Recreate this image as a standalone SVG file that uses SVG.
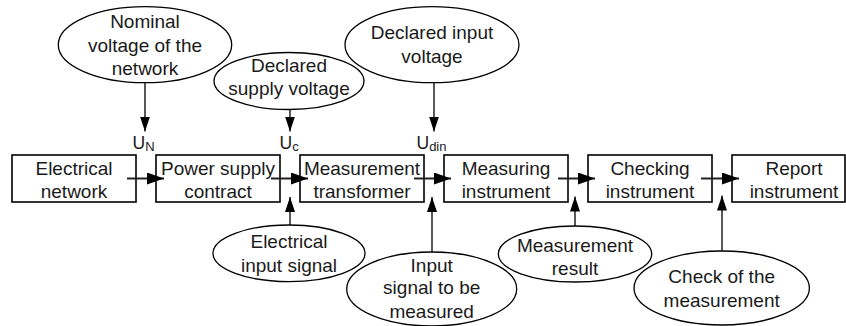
<svg xmlns="http://www.w3.org/2000/svg" width="846" height="326" viewBox="0 0 846 326">
<defs>
<style>
.box{fill:#fff;stroke:#000;stroke-width:1.6}
.ell{fill:#fff;stroke:#000;stroke-width:1.3}
.t{font-family:"Liberation Sans",Arial,sans-serif;font-size:19px;fill:#1a1a1a;text-anchor:middle}
.u{font-family:"Liberation Sans",Arial,sans-serif;font-size:17.5px;fill:#1a1a1a}
.sub{font-size:13px}
.flow{fill:none;stroke:#222;stroke-width:2.2}
.ln{fill:none;stroke:#222;stroke-width:1.5}
</style>
<marker id="ah" markerUnits="userSpaceOnUse" markerWidth="15" markerHeight="10" refX="15" refY="5" orient="auto">
<path d="M0,0 L15,5 L0,10 z" fill="#000"/>
</marker>
<marker id="ahL" markerUnits="userSpaceOnUse" markerWidth="17" markerHeight="12" refX="17" refY="6" orient="auto">
<path d="M0,0 L17,6 L0,12 z" fill="#000"/>
</marker>
</defs>
<rect width="846" height="326" fill="#fff"/>

<g id="n-electrical-network">
<rect class="box" x="12" y="155" width="124" height="47"/>
<text class="t" x="74" y="175">Electrical</text>
<text class="t" x="74" y="197.5">network</text>
</g>
<g id="n-power-supply">
<rect class="box" x="156" y="155" width="124" height="47"/>
<text class="t" x="218" y="175">Power supply</text>
<text class="t" x="218" y="197.5">contract</text>
</g>
<g id="n-transformer">
<rect class="box" x="300" y="155" width="124" height="47"/>
<text class="t" x="362" y="175">Measurement</text>
<text class="t" x="362" y="197.5">transformer</text>
</g>
<g id="n-measuring">
<rect class="box" x="444" y="155" width="124" height="47"/>
<text class="t" x="506" y="175">Measuring</text>
<text class="t" x="506" y="197.5">instrument</text>
</g>
<g id="n-checking">
<rect class="box" x="588" y="155" width="124" height="47"/>
<text class="t" x="650" y="175">Checking</text>
<text class="t" x="650" y="197.5">instrument</text>
</g>
<g id="n-report">
<rect class="box" x="732" y="155" width="113" height="47"/>
<text class="t" x="794" y="175">Report</text>
<text class="t" x="794" y="197.5">instrument</text>
</g>

<g id="connectors">
<line class="flow" x1="127" y1="178.5" x2="164" y2="178.5" marker-end="url(#ahL)"/>
<line class="flow" x1="271" y1="178.5" x2="308" y2="178.5" marker-end="url(#ahL)"/>
<line class="flow" x1="414" y1="178.5" x2="451" y2="178.5" marker-end="url(#ahL)"/>
<line class="flow" x1="558" y1="178.5" x2="595" y2="178.5" marker-end="url(#ahL)"/>
<line class="flow" x1="701" y1="178.5" x2="739" y2="178.5" marker-end="url(#ahL)"/>
<line class="ln" x1="145" y1="82.7" x2="145" y2="131.5" marker-end="url(#ah)"/>
<line class="ln" x1="290" y1="109.5" x2="290" y2="131.5" marker-end="url(#ah)"/>
<line class="ln" x1="434" y1="82.7" x2="434" y2="131.5" marker-end="url(#ah)"/>
<line class="ln" x1="290" y1="225" x2="290" y2="197" marker-end="url(#ah)"/>
<line class="ln" x1="432" y1="252" x2="432" y2="197" marker-end="url(#ah)"/>
<line class="ln" x1="575" y1="226" x2="575" y2="196.5" marker-end="url(#ah)"/>
<line class="ln" x1="722" y1="251" x2="722" y2="195.5" marker-end="url(#ah)"/>
</g>

<g id="labels">
<text class="u" x="132.5" y="149">U<tspan class="sub" dy="2">N</tspan></text>
<text class="u" x="279.5" y="149">U<tspan class="sub" dy="2">c</tspan></text>
<text class="u" x="416.5" y="148.5">U<tspan class="sub" dy="2">din</tspan></text>
</g>

<g id="n-nominal-voltage">
<ellipse class="ell" cx="145" cy="44.7" rx="86.7" ry="38"/>
<text class="t" x="145" y="28.3">Nominal</text>
<text class="t" x="145" y="51.7">voltage of the</text>
<text class="t" x="145" y="75">network</text>
</g>
<g id="n-declared-supply">
<ellipse class="ell" cx="289" cy="81" rx="75" ry="28.5"/>
<text class="t" x="289" y="72.3">Declared</text>
<text class="t" x="289" y="95">supply voltage</text>
</g>
<g id="n-declared-input">
<ellipse class="ell" cx="432" cy="44.7" rx="87" ry="38"/>
<text class="t" x="432" y="39.3">Declared input</text>
<text class="t" x="432" y="62.7">voltage</text>
</g>
<g id="n-electrical-input">
<ellipse class="ell" cx="289" cy="253.3" rx="76" ry="28.3"/>
<text class="t" x="289" y="248.3">Electrical</text>
<text class="t" x="289" y="271.7">input signal</text>
</g>
<g id="n-input-signal">
<ellipse class="ell" cx="431.7" cy="289" rx="85" ry="37"/>
<text class="t" x="431.7" y="271.7">Input</text>
<text class="t" x="431.7" y="294.3">signal to be</text>
<text class="t" x="431.7" y="318.3">measured</text>
</g>
<g id="n-measurement-result">
<ellipse class="ell" cx="575" cy="254" rx="76.7" ry="28"/>
<text class="t" x="575" y="251.7">Measurement</text>
<text class="t" x="575" y="275">result</text>
</g>
<g id="n-check">
<ellipse class="ell" cx="721.7" cy="288" rx="87.7" ry="37"/>
<text class="t" x="721.7" y="283.3">Check of the</text>
<text class="t" x="721.7" y="306.7">measurement</text>
</g>
</svg>
